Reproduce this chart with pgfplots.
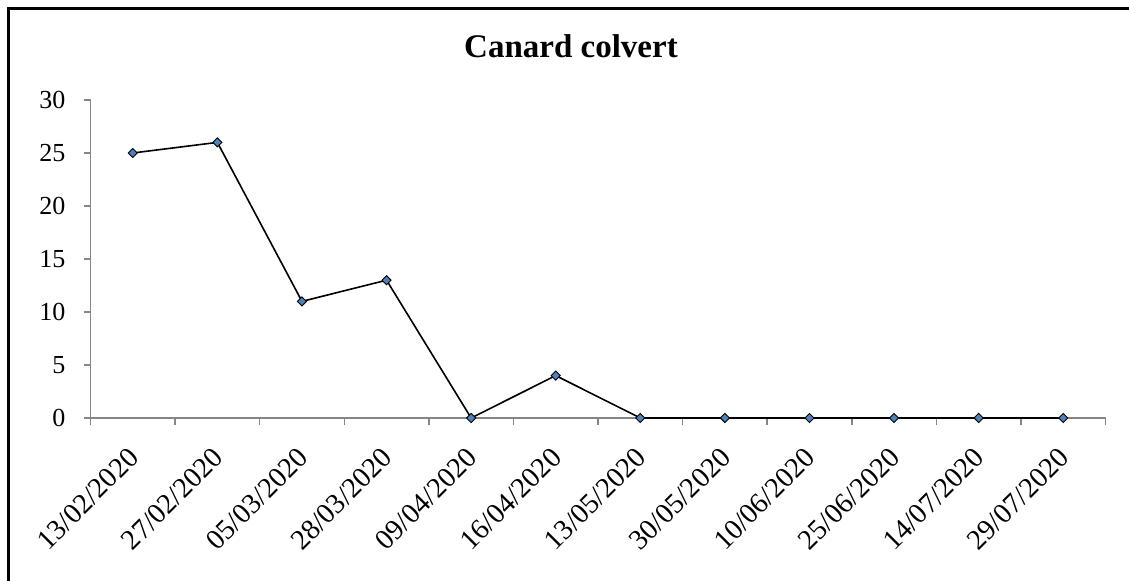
\documentclass[border=0pt]{standalone}
\usepackage{fontspec}
\setmainfont{Liberation Serif}
\usepackage{pgfplots}
\pgfplotsset{compat=1.18}
\definecolor{mk}{HTML}{4F81BD}
\definecolor{ax}{HTML}{868686}
\begin{document}
\begin{tikzpicture}[x=1bp,y=1bp]
\useasboundingbox (0,0) rectangle (1129,581);
\draw[line width=2.6bp] (8.5,0) -- (8.5,572.5) -- (1129,572.5);
\node[anchor=base, font=\fontsize{33bp}{38bp}\selectfont\bfseries] at (571,523) {Canard colvert};
\begin{axis}[
  at={(90.5bp,163bp)}, anchor=south west,
  scale only axis, width=1015bp, height=318bp,
  xmin=-0.5, xmax=11.5, ymin=0, ymax=30,
  axis lines*=left,
  axis line style={draw=ax, line width=1.5bp},
  every tick/.style={draw=ax, line width=1.5bp},
  tick align=outside,
  major tick length=7bp, minor tick length=7bp,
  ytick={0,5,...,30},
  xtick={0,...,11},
  xticklabels={13/02/2020,27/02/2020,05/03/2020,28/03/2020,09/04/2020,16/04/2020,13/05/2020,30/05/2020,10/06/2020,25/06/2020,14/07/2020,29/07/2020},
  x tick style={draw=none},
  minor xtick={-0.5,0.5,...,11.5},
  minor x tick style={draw=ax, line width=1.5bp},
  /pgf/number format/assume math mode=true,
  yticklabel style={font=\fontsize{26bp}{30bp}\selectfont, anchor=east, inner sep=0pt, xshift=-18bp},
  xticklabel style={font=\fontsize{28.5bp}{32bp}\selectfont, xshift=-6bp, yshift=-21bp, rotate=45, anchor=north east, inner sep=0pt},
  clip=false,
]
\addplot[black, line width=1.6bp, mark=square*, mark size=3.2bp,
  mark options={fill=mk, draw=black, line width=0.9bp, rotate=45}]
  coordinates {(0,25) (1,26) (2,11) (3,13) (4,0) (5,4) (6,0) (7,0) (8,0) (9,0) (10,0) (11,0)};
\end{axis}
\end{tikzpicture}
\end{document}
